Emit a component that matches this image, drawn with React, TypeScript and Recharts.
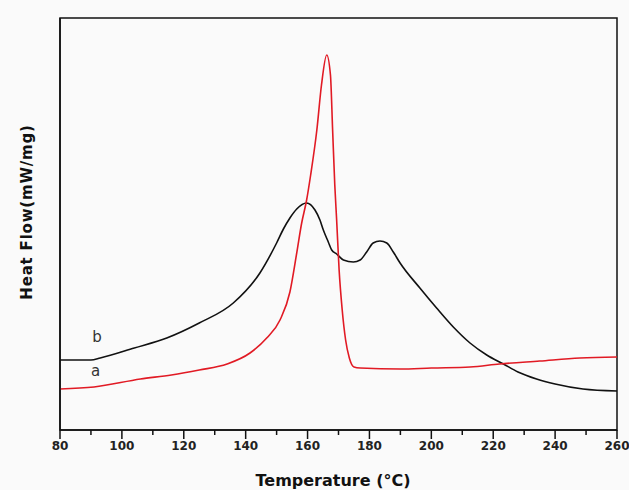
import { LineChart, Line, XAxis, YAxis, ReferenceArea, ReferenceDot } from "recharts";

// x axis: temperature (°C), ticks every 10, labels every 20
const tempTicks = [80, 90, 100, 110, 120, 130, 140, 150, 160, 170, 180, 190, 200, 210, 220, 230, 240, 250, 260];

// curve a (red) - heat flow, arbitrary units
const aTemp = [80, 91, 106, 116, 125, 134, 141.4, 146.8, 151.1, 154.3, 156.5, 158.1, 159.7, 161, 163, 164.5, 166.2, 167.4, 168.1, 168.8, 169.4, 170.2, 171.2, 172.3, 173.5, 175, 177, 190, 200, 212.5, 222, 235, 248, 260];
const aFlow = [41, 43, 51, 55, 60, 66, 77, 92, 110, 138, 177, 207, 230, 255, 300, 345, 375, 355, 300, 245, 210, 160, 120, 90, 72, 63, 62, 61, 62, 63, 66, 69, 72, 73];

// curve b (black)
const bTemp = [80, 90, 93, 104, 114.5, 125, 136, 144.6, 150, 152.2, 154.3, 156.5, 159.7, 162.4, 164, 165.1, 166.7, 167.8, 169.4, 171.6, 174.8, 177, 179.1, 181.2, 183.4, 185.6, 187.7, 189.9, 196.3, 201.7, 207.1, 212.5, 217.9, 223.3, 228, 234, 240, 249, 260];
const bFlow = [70, 70, 72, 82, 92, 107, 127, 157, 187, 201, 212, 221, 227, 220, 210, 200, 188, 180, 176, 170, 168, 170, 178, 187, 189, 187, 178, 167, 142, 122, 103, 87, 75, 66, 58, 51, 46, 41, 39];

const curveA = aTemp.map((t, i) => ({ temp: t, flow: aFlow[i] }));
const curveB = bTemp.map((t, i) => ({ temp: t, flow: bFlow[i] }));

const FONT = "'DejaVu Sans', sans-serif";

function TempTick(props: any) {
  const { x, y, payload } = props;
  const major = payload.value % 20 === 0;
  return (
    <g>
      <line x1={x} x2={x} y1={y} y2={y + (major ? 9 : 5)} stroke="#111" strokeWidth={1.5} />
      {major && (
        <text x={x} y={y + 20} textAnchor="middle" fontSize={12} fontWeight="bold" fontFamily={FONT} fill="#222">
          {payload.value}
        </text>
      )}
    </g>
  );
}

function FlowLabel() {
  return (
    <text
      x={32}
      y={212}
      transform="rotate(-90 32 212)"
      textAnchor="middle"
      fontSize={15}
      fontWeight="bold"
      fontFamily={FONT}
      letterSpacing={0.8}
      fill="#111"
    >
      Heat Flow(mW/mg)
    </text>
  );
}

function TempLabel() {
  return (
    <text x={333} y={486} textAnchor="middle" fontSize={16} fontFamily={FONT} fill="#111" style={{ fontWeight: 600 }}>
      Temperature (°C)
    </text>
  );
}

export default function App() {
  return (
    <div style={{ position: "absolute", left: 0, top: 0, width: 629, height: 490, background: "#fafafa" }}>
      <LineChart width={629} height={490} margin={{ top: 18, right: 12, bottom: 30, left: 10 }}>
        <XAxis
          dataKey="temp"
          type="number"
          domain={[80, 260]}
          ticks={tempTicks}
          interval={0}
          allowDuplicatedCategory={false}
          height={30}
          tickSize={0}
          tickMargin={0}
          tickLine={false}
          axisLine={{ stroke: "#111", strokeWidth: 1.5 }}
          tick={<TempTick />}
          label={<TempLabel />}
        />
        <YAxis
          type="number"
          domain={[0, 412]}
          width={50}
          tick={false}
          tickLine={false}
          axisLine={{ stroke: "#111", strokeWidth: 1.5 }}
          label={<FlowLabel />}
        />
        <ReferenceArea x1={80} x2={260} y1={0} y2={412} fill="none" stroke="#111" strokeWidth={1.5} ifOverflow="visible" />
        <Line data={curveB} dataKey="flow" type="monotone" stroke="#111" strokeWidth={1.6} dot={false} isAnimationActive={false} />
        <Line data={curveA} dataKey="flow" type="monotone" stroke="#e11a24" strokeWidth={1.6} dot={false} isAnimationActive={false} />
        <ReferenceDot x={92} y={93} r={0} fill="none" stroke="none" label={{ value: "b", position: "center", fontSize: 15, fontFamily: FONT, fill: "#333" }} />
        <ReferenceDot x={91.5} y={59} r={0} fill="none" stroke="none" label={{ value: "a", position: "center", fontSize: 15, fontFamily: FONT, fill: "#333" }} />
      </LineChart>
    </div>
  );
}
